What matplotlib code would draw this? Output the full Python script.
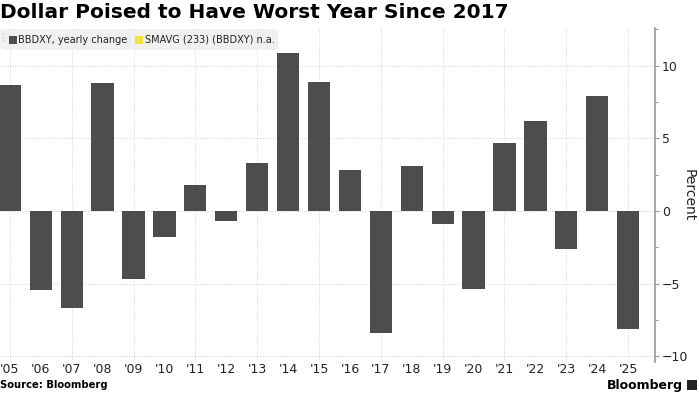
import matplotlib
matplotlib.use("Agg")
import matplotlib.pyplot as plt
from matplotlib.patches import FancyBboxPatch, Rectangle
from matplotlib.ticker import MultipleLocator

years = ["'05", "'06", "'07", "'08", "'09", "'10", "'11", "'12", "'13", "'14", "'15",
         "'16", "'17", "'18", "'19", "'20", "'21", "'22", "'23", "'24", "'25"]
changes = [8.7, -5.45, -6.7, 8.8, -4.7, -1.8, 1.8, -0.7, 3.3, 10.9, 8.9,
           2.8, -8.4, 3.1, -0.9, -5.4, 4.7, 6.2, -2.6, 7.9, -8.1]

W, H = 699, 393
fig = plt.figure(figsize=(W / 100, H / 100), dpi=100)
ax = fig.add_axes([0, 1 - 362 / H, 655 / W, (362 - 28) / H])

x = list(range(len(years)))
ax.bar(x, changes, width=0.72, color="#4d4d4d", zorder=3)

ax.set_xlim(-0.32, 20.87)
ax.set_ylim(-10.4, 12.6)

# grid: every other year, every 5 percent
ax.set_xticks(x)
ax.set_xticklabels(years)
ax.grid(False)
for xi in x[::2]:
    ax.axvline(xi, color="#d4d4d4", lw=0.7, ls=(0, (1, 1.5)), zorder=1)
for yv in (-10, -5, 0, 5, 10):
    ax.axhline(yv, color="#d4d4d4", lw=0.7, ls=(0, (1, 1.5)), zorder=1)

ax.yaxis.tick_right()
ax.yaxis.set_major_locator(MultipleLocator(5))
ax.yaxis.set_minor_locator(MultipleLocator(2.5))
ax.tick_params(axis="y", which="major", length=3, width=0.8, color="#999999",
               labelsize=9, pad=2, labelcolor="#222222")
ax.tick_params(axis="y", which="minor", length=2, width=0.8, color="#999999")
ax.tick_params(axis="x", which="both", length=0, labelsize=9, pad=1, labelcolor="#222222")
fig.text(689 / W, 1 - 195 / H, "Percent", rotation=270, fontsize=10, color="#222222",
         ha="center", va="center")

for s in ("top", "left", "bottom"):
    ax.spines[s].set_visible(False)
ax.spines["right"].set_color("#999999")
ax.spines["right"].set_linewidth(1.2)

# title
fig.text(0, 1 - 12 / H, "Dollar Poised to Have Worst Year Since 2017",
         fontsize=14.5, fontweight="bold", va="center", ha="left", color="#000000")

# legend box
fig.patches.append(FancyBboxPatch((0, 1 - 50 / H), 278 / W, 21 / H,
                                  boxstyle="round,pad=0,rounding_size=0.008",
                                  transform=fig.transFigure, facecolor="#f0f0f0",
                                  edgecolor="none", zorder=5))
fig.text(2 / W, 1 - 39.5 / H, "⁝", fontsize=7, color="#aaaaaa", va="center", zorder=6)
fig.patches.append(Rectangle((9 / W, 1 - 44 / H), 8 / W, 8 / H, transform=fig.transFigure,
                             facecolor="#4d4d4d", edgecolor="none", zorder=6))
fig.text(18 / W, 1 - 40 / H, "BBDXY, yearly change", fontsize=7, color="#222222",
         va="center", zorder=6)
fig.patches.append(Rectangle((135 / W, 1 - 44 / H), 8 / W, 8 / H, transform=fig.transFigure,
                             facecolor="#f5e133", edgecolor="none", zorder=6))
fig.text(145 / W, 1 - 40 / H, "SMAVG (233) (BBDXY) n.a.", fontsize=7, color="#222222",
         va="center", zorder=6)

# footer
fig.text(0, 1 - 385 / H, "Source: Bloomberg", fontsize=7.2, fontweight="bold",
         va="center", ha="left", color="#000000")
fig.text(683 / W, 1 - 385 / H, "Bloomberg", fontsize=9, fontweight="bold",
         va="center", ha="right", color="#000000")
fig.patches.append(Rectangle((687 / W, 1 - 390 / H), 10 / W, 10 / H, transform=fig.transFigure,
                             facecolor="#222222", edgecolor="none"))

fig.savefig("out.png", dpi=100)
